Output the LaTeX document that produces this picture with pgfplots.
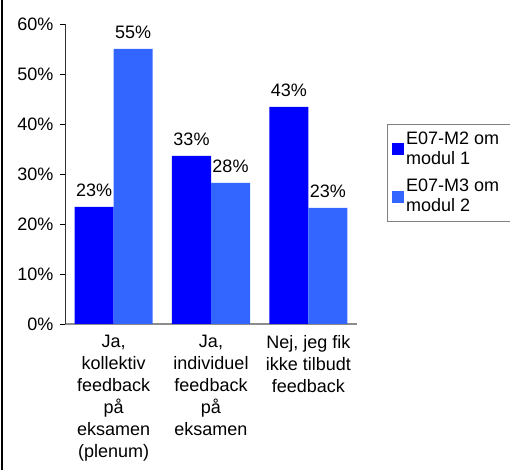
\documentclass[border=0pt]{standalone}
\usepackage{pgfplots}
\pgfplotsset{compat=1.18}
\usepackage{fontspec}
\setmainfont{Liberation Sans}
\definecolor{darkbar}{RGB}{0,0,255}
\definecolor{lightbar}{RGB}{51,102,255}
\begin{document}
\fontsize{13.5}{16.5}\selectfont
\begin{tikzpicture}
\begin{axis}[
    scale only axis,
    width=219pt, height=225pt,
    ybar=0pt, bar width=29.25pt,
    xmin=-0.5, xmax=2.5,
    ymin=0, ymax=60,
    ytick={0,10,...,60},
    yticklabel={\pgfmathprintnumber{\tick}\%},
    /pgf/number format/assume math mode=true,
    xtick=data,
    xticklabels={{Ja,\\kollektiv\\feedback\\på\\eksamen\\(plenum)},
                 {Ja,\\individuel\\feedback\\på\\eksamen},
                 {Nej, jeg fik\\ikke tilbudt\\feedback}},
    xticklabel style={align=center, font=\fontsize{13.5}{16.5}\selectfont},
    yticklabel style={font=\fontsize{13.5}{16.5}\selectfont},
    x tick style={draw=none},
    y tick style={black, line width=0.6pt},
    tick align=outside, major tick length=4pt,
    axis x line*=bottom, axis y line*=left,
    x axis line style={gray!90, line width=1.2pt, -},
    y axis line style={black!80, line width=0.6pt, -},
    point meta=explicit symbolic,
    nodes near coords,
    every node near coord/.append style={font=\fontsize{13.5}{16.5}\selectfont, yshift=3pt},
    legend style={at={(1.1027,0.6667)}, anchor=north west, draw=gray, line width=0.8pt,
        font=\fontsize{13.5}{15}\selectfont, inner xsep=3pt, inner ysep=3.5pt,
        cells={anchor=west, align=left}, row sep=5pt},
    legend image code/.code={\fill[#1] (0pt,-4.5pt) rectangle (9pt,4.5pt);},
]
\addplot[fill=darkbar, draw=none] coordinates {(0,23.4) [23\%] (1,33.6) [33\%] (2,43.4) [43\%]};
\addlegendentry{E07-M2 om\hspace*{10pt}\\modul 1}
\addplot[fill=lightbar, draw=none] coordinates {(0,55.0) [55\%] (1,28.2) [28\%] (2,23.2) [23\%]};
\addlegendentry{E07-M3 om\hspace*{10pt}\\modul 2}
\end{axis}
\pgfresetboundingbox
\path[use as bounding box] (-48.75pt,-109.5pt) rectangle (333.75pt,243pt);
\draw[line width=1.1pt] (-47.25pt,-109.5pt) -- (-47.25pt,243pt);
\end{tikzpicture}
\end{document}
